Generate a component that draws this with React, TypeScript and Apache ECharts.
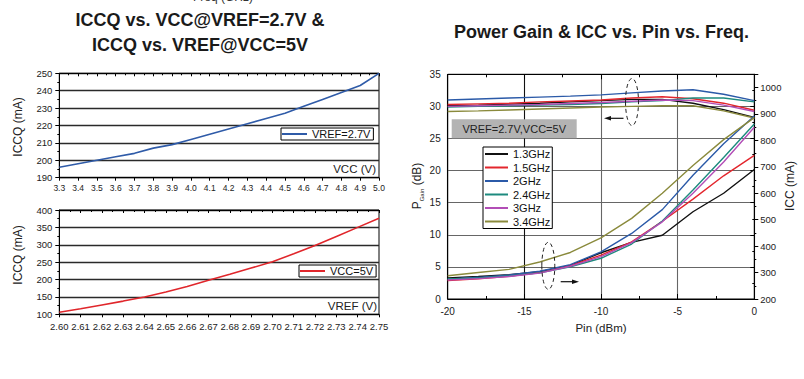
import React, { useEffect, useRef } from "react";
import * as echarts from "echarts";

const FONT = "'Liberation Sans', Arial, Helvetica, sans-serif";

// ---- Chart 1: ICCQ vs VCC @ VREF=2.7V ----
const vccValues = [3.3, 3.4, 3.5, 3.6, 3.7, 3.8, 3.9, 4.0, 4.1, 4.2, 4.3, 4.4, 4.5, 4.6, 4.7, 4.8, 4.9, 5.0];
const iccqVsVcc = [196, 198, 200, 202, 204, 207, 209, 212, 215, 218, 221, 224, 227, 231, 235, 239, 243, 250];

// ---- Chart 2: ICCQ vs VREF @ VCC=5V ----
const vrefValues = [2.6, 2.61, 2.62, 2.63, 2.64, 2.65, 2.66, 2.67, 2.68, 2.69, 2.7, 2.71, 2.72, 2.73, 2.74, 2.75];
const iccqVsVref = [106, 116, 127, 138, 150, 164, 180, 198, 215, 233, 251, 274, 298, 324, 350, 376];

// ---- Chart 3: Power gain & ICC vs Pin vs Freq ----
const pinValues = [-20, -18, -16, -14, -12, -10, -8, -6, -4, -2, 0];
const freqNames = ["1.3GHz", "1.5GHz", "2GHz", "2.4GHz", "3GHz", "3.4GHz"];

const gain13 = [30.1, 30.2, 30.35, 30.5, 30.7, 30.9, 31.1, 31.1, 30.5, 29.5, 28.3];
const gain15 = [30.3, 30.4, 30.5, 30.7, 30.85, 31.0, 31.3, 31.5, 31.2, 30.5, 29.4];
const gain20 = [31.0, 31.15, 31.3, 31.45, 31.6, 31.8, 32.1, 32.4, 32.6, 31.9, 30.9];
const gain24 = [29.9, 30.0, 30.1, 30.2, 30.3, 30.45, 30.7, 30.9, 31.3, 31.3, 30.7];
const gain30 = [30.0, 30.1, 30.2, 30.3, 30.45, 30.6, 30.8, 31.0, 30.9, 30.2, 29.2];
const gain34 = [29.2, 29.3, 29.45, 29.6, 29.75, 29.9, 30.0, 30.1, 30.1, 29.3, 28.2];

const icc13 = [280, 285, 292, 303, 327, 375, 414, 441, 530, 600, 690];
const icc15 = [270, 276, 286, 300, 326, 366, 416, 494, 578, 666, 743];
const icc20 = [275, 282, 291, 305, 330, 378, 448, 538, 668, 787, 892];
const icc24 = [276, 280, 287, 299, 322, 354, 408, 495, 612, 735, 862];
const icc30 = [272, 277, 285, 298, 324, 360, 413, 492, 600, 718, 850];
const icc34 = [288, 300, 312, 340, 376, 431, 505, 600, 705, 803, 886];

const gainSets = [gain13, gain15, gain20, gain24, gain30, gain34];
const iccSets = [icc13, icc15, icc20, icc24, icc30, icc34];
const freqColors = ["#111111", "#e3262d", "#2b5aa8", "#1d8a7e", "#b24db6", "#8a8a3c"];

const pairs = (xs: number[], ys: number[]) => xs.map((x, i) => [x, ys[i]]);

const axisText = { color: "#222", fontFamily: FONT };

function buildOption(): any {
  const leftAxisBase = (gi: number, min: number, max: number, interval: number) => ({
    gridIndex: gi,
    type: "value",
    min,
    max,
    interval,
    axisLine: { show: true, lineStyle: { color: "#000", width: 1 } },
    axisTick: { show: true, inside: false, length: 4, lineStyle: { color: "#000" } },
    minorTick: { show: true, splitNumber: 2, length: 2, lineStyle: { color: "#000" } },
    splitLine: { show: true, lineStyle: { color: "#2a2a2a", width: 1.3 } },
    axisLabel: { ...axisText, fontSize: 9.5, margin: 7, formatter: (v: number) => String(v) },
  });

  const series: any[] = [
    {
      type: "line",
      name: "VREF=2.7V",
      xAxisIndex: 0,
      yAxisIndex: 0,
      data: pairs(vccValues, iccqVsVcc),
      symbol: "none",
      lineStyle: { color: "#2f5ba8", width: 1.6 },
      itemStyle: { color: "#2f5ba8" },
    },
    {
      type: "line",
      name: "VCC=5V",
      xAxisIndex: 1,
      yAxisIndex: 1,
      data: pairs(vrefValues, iccqVsVref),
      symbol: "none",
      lineStyle: { color: "#e0262b", width: 1.6 },
      itemStyle: { color: "#e0262b" },
    },
  ];
  freqNames.forEach((name, k) => {
    series.push({
      type: "line",
      name,
      xAxisIndex: 2,
      yAxisIndex: 2,
      data: pairs(pinValues, gainSets[k]),
      symbol: "none",
      lineStyle: { color: freqColors[k], width: 1.4 },
      itemStyle: { color: freqColors[k] },
    });
  });
  freqNames.forEach((name, k) => {
    series.push({
      type: "line",
      name,
      xAxisIndex: 2,
      yAxisIndex: 3,
      data: pairs(pinValues, iccSets[k]),
      symbol: "none",
      lineStyle: { color: freqColors[k], width: 1.4 },
      itemStyle: { color: freqColors[k] },
    });
  });

  const legendBase = {
    orient: "vertical",
    icon: "rect",
    itemHeight: 2,
    borderColor: "#000",
    borderWidth: 1,
    backgroundColor: "#fff",
    selectedMode: false,
    textStyle: { fontSize: 11, fontFamily: FONT, color: "#111", lineHeight: 12 },
    z: 20,
  };

  const ellipseStyle = { fill: "none", stroke: "#222", lineWidth: 1, lineDash: [4, 3] };

  return {
    animation: false,
    backgroundColor: "#fff",
    grid: [
      { left: 59.3, top: 73.3, width: 319.7, height: 104.4, show: true, borderColor: "#000", borderWidth: 1, backgroundColor: "transparent" },
      { left: 59.3, top: 210, width: 319.7, height: 104.3, show: true, borderColor: "#000", borderWidth: 1, backgroundColor: "transparent" },
      { left: 447.7, top: 74.3, width: 306.6, height: 224.7, show: true, borderColor: "#000", borderWidth: 1, backgroundColor: "transparent" },
    ],
    xAxis: [
      {
        gridIndex: 0,
        type: "value",
        min: 3.3,
        max: 5.0,
        interval: 0.1,
        axisLine: { show: true, lineStyle: { color: "#000" } },
        axisTick: { show: true, inside: false, length: 3, lineStyle: { color: "#000" } },
        splitLine: { show: false },
        axisLabel: { ...axisText, fontSize: 8.5, margin: 6, formatter: (v: number) => v.toFixed(1) },
      },
      {
        gridIndex: 1,
        type: "value",
        min: 2.6,
        max: 2.75,
        interval: 0.01,
        axisLine: { show: true, lineStyle: { color: "#000" } },
        axisTick: { show: true, inside: false, length: 3, lineStyle: { color: "#000" } },
        splitLine: { show: false },
        axisLabel: { ...axisText, fontSize: 9.5, margin: 7, formatter: (v: number) => v.toFixed(2) },
      },
      {
        gridIndex: 2,
        type: "value",
        min: -20,
        max: 0,
        interval: 5,
        axisLine: { show: true, lineStyle: { color: "#000" } },
        axisTick: { show: true, inside: true, length: 5, lineStyle: { color: "#000" } },
        minorTick: { show: true, splitNumber: 2, length: 3, lineStyle: { color: "#000" } },
        splitLine: { show: true, lineStyle: { color: ["#000", "#111", "#666", "#666", "#000"], width: 1.1 } },
        axisLabel: { ...axisText, fontSize: 10, margin: 7 },
      },
      {
        gridIndex: 0,
        type: "value",
        position: "top",
        min: 3.3,
        max: 5.0,
        interval: 0.1,
        axisLine: { show: true, lineStyle: { color: "#000" } },
        axisTick: { show: true, inside: true, length: 3, lineStyle: { color: "#000" } },
        minorTick: { show: true, splitNumber: 2, length: 2, lineStyle: { color: "#000" } },
        axisLabel: { show: false },
        splitLine: { show: false },
      },
      {
        gridIndex: 1,
        type: "value",
        position: "top",
        min: 2.6,
        max: 2.75,
        interval: 0.01,
        axisLine: { show: true, lineStyle: { color: "#000" } },
        axisTick: { show: true, inside: true, length: 3, lineStyle: { color: "#000" } },
        minorTick: { show: true, splitNumber: 2, length: 2, lineStyle: { color: "#000" } },
        axisLabel: { show: false },
        splitLine: { show: false },
      },
      {
        gridIndex: 2,
        type: "value",
        position: "top",
        min: -20,
        max: 0,
        interval: 5,
        axisLine: { show: true, lineStyle: { color: "#000" } },
        axisTick: { show: true, inside: true, length: 5, lineStyle: { color: "#000" } },
        minorTick: { show: true, splitNumber: 2, length: 3, lineStyle: { color: "#000" } },
        axisLabel: { show: false },
        splitLine: { show: false },
      },
    ],
    yAxis: [
      leftAxisBase(0, 190, 250, 10),
      leftAxisBase(1, 100, 400, 50),
      {
        ...leftAxisBase(2, 0, 35, 5),
        splitLine: { show: true, lineStyle: { color: "#666", width: 1.1 } },
        axisLabel: { ...axisText, fontSize: 10, margin: 7 },
      },
      {
        gridIndex: 2,
        type: "value",
        position: "right",
        min: 200,
        max: 1050,
        interval: 100,
        axisLine: { show: true, lineStyle: { color: "#000" } },
        axisTick: { show: true, inside: false, length: 4, lineStyle: { color: "#000" } },
        minorTick: { show: true, splitNumber: 2, length: 2, lineStyle: { color: "#000" } },
        splitLine: { show: false },
        axisLabel: { ...axisText, fontSize: 9.5, margin: 6, showMaxLabel: false, formatter: (v: number) => String(v) },
      },
    ],
    legend: [
      { ...legendBase, data: ["VREF=2.7V"], left: 281, top: 128, itemWidth: 25, padding: [0, 3, 0, 1] },
      { ...legendBase, data: ["VCC=5V"], left: 299, top: 265, itemWidth: 25, padding: [0, 3, 0, 1] },
      { ...legendBase, data: freqNames, left: 483, top: 147, itemWidth: 23, itemGap: 1.5, padding: [1, 2, 1, 2] },
    ],
    series,
    graphic: [
      { type: "text", x: 223, y: -3, style: { text: "Freq (GHz)", font: `12px ${FONT}`, fill: "#333", textAlign: "center", textVerticalAlign: "middle" } },
      { type: "text", x: 200, y: 20, style: { text: "ICCQ vs. VCC@VREF=2.7V &", font: `bold 18px ${FONT}`, fill: "#1a1a1a", textAlign: "center", textVerticalAlign: "middle" } },
      { type: "text", x: 200, y: 44.5, style: { text: "ICCQ vs. VREF@VCC=5V", font: `bold 18px ${FONT}`, fill: "#1a1a1a", textAlign: "center", textVerticalAlign: "middle" } },
      { type: "text", x: 601.5, y: 32, style: { text: "Power Gain & ICC vs. Pin vs. Freq.", font: `bold 18px ${FONT}`, fill: "#1a1a1a", textAlign: "center", textVerticalAlign: "middle" } },
      { type: "text", x: 18.3, y: 127, rotation: Math.PI / 2, style: { text: "ICCQ (mA)", font: `12px ${FONT}`, fill: "#222", textAlign: "center", textVerticalAlign: "middle" } },
      { type: "text", x: 18.3, y: 255, rotation: Math.PI / 2, style: { text: "ICCQ (mA)", font: `12px ${FONT}`, fill: "#222", textAlign: "center", textVerticalAlign: "middle" } },
      { type: "text", x: 376, y: 169, style: { text: "VCC (V)", font: `11.5px ${FONT}`, fill: "#222", textAlign: "right", textVerticalAlign: "middle" }, z: 5 },
      { type: "text", x: 377, y: 305.5, style: { text: "VREF (V)", font: `11.5px ${FONT}`, fill: "#222", textAlign: "right", textVerticalAlign: "middle" }, z: 5 },
      { type: "text", x: 601, y: 327.5, style: { text: "Pin (dBm)", font: `11.5px ${FONT}`, fill: "#222", textAlign: "center", textVerticalAlign: "middle" } },
      {
        type: "text",
        x: 416.5,
        y: 186,
        rotation: Math.PI / 2,
        style: {
          text: "{a|P}{b|Gain}{a| (dB)}",
          textAlign: "center",
          textVerticalAlign: "middle",
          rich: {
            a: { font: `12px ${FONT}`, fill: "#222", verticalAlign: "bottom" },
            b: { font: `6px ${FONT}`, fill: "#222", verticalAlign: "bottom", padding: [0, 0, -2, 0] },
          },
        },
      },
      { type: "text", x: 790, y: 186, rotation: Math.PI / 2, style: { text: "ICC (mA)", font: `12px ${FONT}`, fill: "#222", textAlign: "center", textVerticalAlign: "middle" } },
      { type: "rect", shape: { x: 451.7, y: 119.3, width: 125, height: 19 }, style: { fill: "#b3b3b3" }, z: 10 },
      { type: "text", x: 514.2, y: 129, style: { text: "VREF=2.7V,VCC=5V", font: `11px ${FONT}`, fill: "#222", textAlign: "center", textVerticalAlign: "middle" }, z: 11 },
      { type: "ellipse", shape: { cx: 632, cy: 102, rx: 6.5, ry: 23.5 }, style: ellipseStyle, z: 12 },
      { type: "line", shape: { x1: 623.5, y1: 118.3, x2: 608, y2: 118.3 }, style: { stroke: "#111", lineWidth: 1.2 }, z: 12 },
      { type: "polygon", shape: { points: [[604, 118.3], [611, 116], [611, 120.6]] }, style: { fill: "#111" }, z: 12 },
      { type: "ellipse", shape: { cx: 548.3, cy: 265.8, rx: 6.5, ry: 23.5 }, style: ellipseStyle, z: 12 },
      { type: "line", shape: { x1: 560.7, y1: 281.7, x2: 575, y2: 281.7 }, style: { stroke: "#111", lineWidth: 1.2 }, z: 12 },
      { type: "polygon", shape: { points: [[579, 281.7], [572, 279.4], [572, 284]] }, style: { fill: "#111" }, z: 12 },
    ],
  };
}

export default function App() {
  const ref = useRef<HTMLDivElement>(null);
  useEffect(() => {
    if (!ref.current) return;
    const chart = echarts.init(ref.current, undefined, { renderer: "svg" });
    chart.setOption(buildOption());
    return () => chart.dispose();
  }, []);
  return (
    <div
      ref={ref}
      style={{ position: "fixed", left: 0, top: 0, width: 804, height: 379, background: "#fff" }}
    />
  );
}
